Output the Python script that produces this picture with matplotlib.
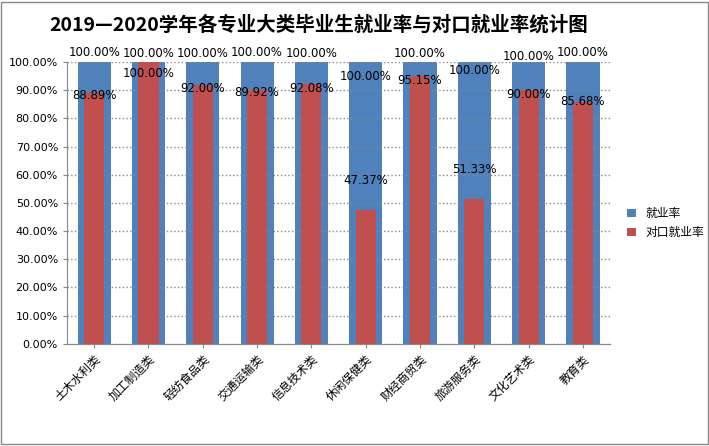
import numpy as np
import matplotlib as mpl
import matplotlib.pyplot as plt
from matplotlib.patches import Rectangle

plt.rcParams['font.family'] = ['Noto Sans CJK SC', 'DejaVu Sans']

categories = ['土木水利类', '加工制造类', '轻纺食品类', '交通运输类', '信息技术类',
              '休闲保健类', '财经商贸类', '旅游服务类', '文化艺术类', '教育类']
employ = [100, 100, 100, 100, 100, 100, 100, 100, 100, 100]
match = [88.89, 100, 92.00, 89.92, 92.08, 47.37, 95.15, 51.33, 90.00, 85.68]

# label placement tweaks (in %-units)
blue_lbl = [103.5, 103, 103, 103.5, 103, 95, 103, 97, 102, 103.5]
red_lbl = [88, 96, 90.5, 89, 90.5, 58, 93.5, 62, 88.5, 86]

fig = plt.figure(figsize=(7.09, 4.46), dpi=100)
fig.patches.append(Rectangle((0.002, 0.004), 0.996, 0.992, transform=fig.transFigure,
                             fill=False, ec='#888888', lw=1))
ax = fig.add_axes([0.0945, 0.229, 0.766, 0.632])
x = np.arange(len(categories))
ax.bar(x, employ, width=0.61, color='#4F81BD', label='就业率', zorder=2)
ax.bar(x, match, width=0.37, color='#C0504D', label='对口就业率', zorder=3)
for i in x:
    ax.text(i, blue_lbl[i], f'{employ[i]:.2f}%', ha='center', va='center', fontsize=8.5,
            family='DejaVu Sans', zorder=5)
    ax.text(i, red_lbl[i], f'{match[i]:.2f}%', ha='center', va='center', fontsize=8.5,
            family='DejaVu Sans', zorder=5)

ax.set_xlim(-0.5, len(categories) - 0.5)
ax.set_ylim(0, 100)
ax.set_yticks(np.arange(0, 101, 10))
ax.set_yticklabels([f'{v:.2f}%' for v in range(0, 101, 10)], family='DejaVu Sans', fontsize=8)
ax.set_xticks(x)
ax.set_xticklabels(categories, rotation=45, ha='right', rotation_mode='anchor', fontsize=8.5)
ax.yaxis.grid(True, ls=':', color='#888888', lw=1, zorder=4)
ax.set_axisbelow(False)
for s in ['top', 'right']:
    ax.spines[s].set_visible(False)
ax.spines['left'].set_color('#888888')
ax.spines['bottom'].set_color('#888888')
ax.tick_params(length=3, color='#888888')

fig.legend(loc='center left', bbox_to_anchor=(0.87, 0.5), frameon=False, fontsize=8.5,
           handlelength=0.7, handleheight=0.7)
fig.text(0.45, 0.945, '2019—2020学年各专业大类毕业生就业率与对口就业率统计图', ha='center',
         va='center', fontsize=14, fontweight='bold')
fig.savefig('out.png')
